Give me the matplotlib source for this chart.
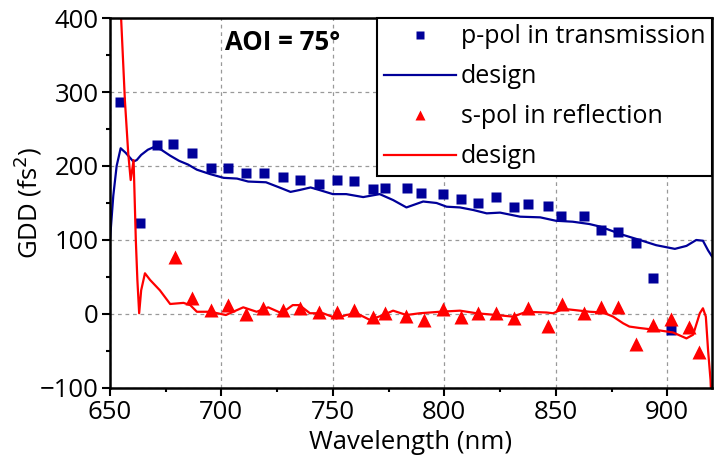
import matplotlib.pyplot as plt
from matplotlib.ticker import MultipleLocator

plt.rcParams["font.family"] = ["Open Sans", "DejaVu Sans"]

# measured p-pol GDD (transmission)
p_wl = [654.5, 663.3, 671, 678.3, 686.8, 695.3, 702.9, 711, 719.1, 727.6, 735.2,
        743.7, 751.8, 759.4, 767.9, 773.3, 783.2, 789.5, 799.3, 807.4, 815, 823.1,
        831.2, 837.4, 846.4, 852.2, 862.6, 870.2, 877.8, 886, 893.6, 901.6]
p_gdd = [286, 123, 228, 230, 217, 197, 197, 190, 191, 185, 181,
         176, 181, 180, 169, 170, 170, 164, 162, 156, 150, 158,
         145, 149, 146, 133, 132, 113, 111, 96, 49, -22]

# measured s-pol GDD (reflection)
s_wl = [679.1, 686.9, 695.3, 702.9, 710.9, 718.6, 727.4, 735.2, 743.9, 751.7,
        759.4, 767.8, 773.5, 783, 790.8, 799.5, 807.3, 815.2, 823.1, 831.2,
        837.6, 846.5, 853, 862.6, 870.3, 877.7, 885.9, 893.6, 901.6, 909.6, 914.3]
s_gdd = [77, 22, 5, 12, 0, 8, 5, 8, 3, 3,
         5, -4, 1, -3, -8, 7, -4.5, 1, 1, -5,
         8, -16, 13, 2, 9, 10, -40, -15, -7, -17, -51]

# design curves
pd_wl = [650, 651.5, 653, 654.8, 657, 660.5, 662, 664, 667, 670, 673, 677, 681, 685,
         689, 695, 701, 707, 712, 720, 726, 731, 735, 740, 744, 750, 756, 763.6,
         771, 777, 783, 790.5, 796.5, 801, 807, 813, 819, 825, 834, 843, 850,
         857.6, 865, 870, 880, 887.7, 895, 903.4, 908.6, 913, 916, 918.3, 920]
pd_gdd = [100, 160, 200, 224, 218, 206, 208, 215, 222, 226, 222, 214, 207, 202,
          195, 189, 184, 183, 179, 178, 171, 165, 167.5, 171, 167.5, 162, 162, 158,
          162, 154, 144, 152, 150, 145, 144, 140.5, 136, 137, 131.5, 130.6, 126,
          124.7, 121.6, 118, 107, 100, 93, 88, 92, 100, 99, 86, 78]

sd_wl = [653, 655, 656.7, 658.2, 659.3, 660.6, 661.6, 662.3, 663.1, 664, 665.7, 668,
         672.4, 677, 683, 686, 689, 695, 702, 709.8, 715.8, 721, 727, 732, 735,
         739.7, 745.6, 751.6, 756, 760.6, 766.6, 772.6, 777, 783, 789, 798, 807,
         814.4, 823.4, 830.8, 836.8, 845.8, 848.8, 853.3, 856.3, 860.8, 865.2,
         871.2, 875.7, 880.2, 883, 887.7, 895.2, 902.6, 908.6, 911.6, 914.6, 916,
         917.3, 918.3, 919.4, 920]
sd_gdd = [560, 400, 289, 217, 181, 208, 100, 46, 1, 32, 55, 46,
          32, 13.5, 15, 12, 3, 3, -1.4, 9, 3, 9, 1, 12, 12,
          1, 1, -6, -1.4, 1, -8, -1.4, 4.5, -1.4, 1, 3, 4.5,
          1, -1.4, -3.6, 3, 2, 1, 7, 6, 4.5, 3,
          2, -3.6, -12.6, -17, -19, -21.6, -25, -33, -28, 1, 7.7,
          -3.6, -49, -89, -130]

blue = "#000099"
red = "#ff0000"
fs = 18.5

fig = plt.figure(figsize=(7.14, 4.68), dpi=100)
ax = fig.add_axes([0.154, 0.171, 0.843, 0.7905])

ax.plot(p_wl, p_gdd, "s", color=blue, ms=7.5, mec="none", label="p-pol in transmission")
ax.plot(pd_wl, pd_gdd, "-", color=blue, lw=1.6, label="design")
ax.plot(s_wl, s_gdd, "^", color=red, ms=10, mec="none", label="s-pol in reflection")
ax.plot(sd_wl, sd_gdd, "-", color=red, lw=1.6, label="design")

ax.set_xlim(650, 920)
ax.set_ylim(-100, 400)
ax.xaxis.set_major_locator(MultipleLocator(50))
ax.xaxis.set_minor_locator(MultipleLocator(25))
ax.yaxis.set_major_locator(MultipleLocator(100))
ax.yaxis.set_minor_locator(MultipleLocator(50))
ax.grid(True, which="major", color="#999999", ls=(0, (3, 3)), lw=0.9)

for side in ax.spines.values():
    side.set_linewidth(1.8)
ax.tick_params(which="major", direction="out", length=6, width=1.5, labelsize=fs, pad=2)
ax.tick_params(axis="x", which="major", pad=3)
ax.tick_params(which="minor", direction="out", length=3, width=1.5)

ax.set_xlabel("Wavelength (nm)", fontsize=fs, labelpad=3)
ax.set_ylabel("GDD (fs$^2$)", fontsize=fs)
ax.yaxis.set_label_coords(-0.11, 0.5)

ax.text(0.287, 0.935, "AOI = 75°", transform=ax.transAxes, ha="center", va="center",
        fontsize=fs, fontweight="bold")

leg = ax.legend(loc="upper right", fontsize=18, borderaxespad=0, fancybox=False,
                edgecolor="black", framealpha=1, handlelength=2.9, handletextpad=0.2,
                labelspacing=0.6, borderpad=0.25, markerscale=0.75)
leg.get_frame().set_linewidth(1.5)

fig.savefig("out.png", dpi=100)
